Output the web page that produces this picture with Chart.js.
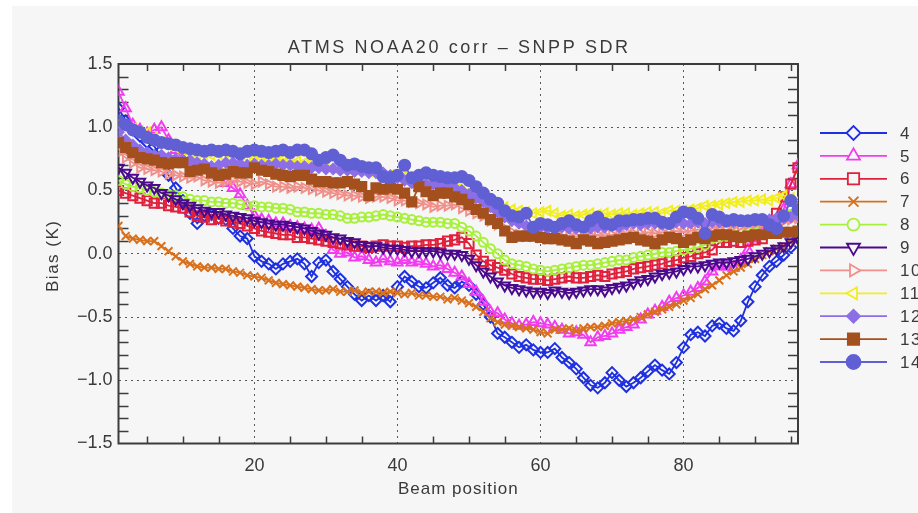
<!DOCTYPE html>
<html>
<head>
<meta charset="utf-8">
<script src="https://cdn.jsdelivr.net/npm/chart.js@4.4.1/dist/chart.umd.min.js"></script>
<style>
  html, body { margin: 0; padding: 0; background: #ffffff; }
  #wrap { width: 918px; height: 513px; }
</style>
</head>
<body>
<div id="wrap"><canvas id="biasChart" width="918" height="513"></canvas></div>
<script>
// ATMS NOAA20 corr - SNPP SDR bias by beam position, channels 4-14
const chartTitle = "ATMS NOAA20 corr \u2013 SNPP SDR";
const xTitle = "Beam position";
const yTitle = "Bias (K)";

const beams = Array.from({ length: 96 }, (_, i) => i + 1);
const xTickLabels = [20, 40, 60, 80];
const yTickLabels = [-1.5, -1.0, -0.5, 0.0, 0.5, 1.0, 1.5];
const channels = ["4", "5", "6", "7", "8", "9", "10", "11", "12", "13", "14"];

const ch4 = [
  1.15, 1.05, 0.98, 0.93, 0.88, 0.85, 0.76, 0.62, 0.52, 0.42, 0.32, 0.24,
  0.30, 0.31, 0.28, 0.27, 0.20, 0.14, 0.12, -0.02, -0.06, -0.08, -0.12, -0.08,
  -0.06, -0.04, -0.08, -0.18, -0.07, -0.05, -0.14, -0.20, -0.26, -0.32, -0.37, -0.33,
  -0.37, -0.33, -0.38, -0.26, -0.18, -0.22, -0.26, -0.27, -0.23, -0.19, -0.25, -0.27,
  -0.22, -0.25, -0.32, -0.40, -0.50, -0.63, -0.66, -0.70, -0.74, -0.72, -0.76, -0.78,
  -0.78, -0.75, -0.82, -0.86, -0.91, -0.98, -1.04, -1.06, -1.02, -0.94, -1.00, -1.05,
  -1.02, -0.98, -0.93, -0.88, -0.92, -0.95, -0.86, -0.74, -0.64, -0.62, -0.65, -0.57,
  -0.55, -0.59, -0.61, -0.53, -0.38, -0.26, -0.17, -0.10, -0.06, -0.01, 0.05, 0.12
];
const ch5 = [
  1.28, 1.15, 1.02, 0.98, 0.95, 0.98, 1.00, 0.90, 0.82, 0.75, 0.72, 0.70,
  0.68, 0.66, 0.62, 0.56, 0.52, 0.47, 0.38, 0.30, 0.27, 0.26, 0.24, 0.24,
  0.22, 0.21, 0.20, 0.19, 0.20, 0.14, 0.03, 0.00, 0.01, -0.03, -0.02, -0.05,
  -0.07, -0.04, -0.06, -0.07, -0.05, -0.07, -0.06, -0.08, -0.10, -0.09, -0.12, -0.15,
  -0.18, -0.24, -0.30, -0.38, -0.46, -0.47, -0.52, -0.55, -0.57, -0.56, -0.54, -0.55,
  -0.56, -0.58, -0.60, -0.63, -0.62, -0.64, -0.70, -0.66, -0.65, -0.63, -0.60, -0.58,
  -0.56, -0.52, -0.48, -0.45, -0.42, -0.38, -0.35, -0.33, -0.30, -0.27, -0.22, -0.14,
  -0.10, -0.10, -0.11, -0.05, 0.03, 0.12, 0.17, 0.18, 0.20, 0.35, 0.55, 0.70
];
const ch6 = [
  0.50, 0.48, 0.46, 0.44, 0.42, 0.40, 0.40, 0.38, 0.37, 0.36, 0.33, 0.30,
  0.29, 0.27, 0.28, 0.26, 0.25, 0.24, 0.22, 0.20, 0.18, 0.17, 0.16, 0.15,
  0.15, 0.13, 0.13, 0.12, 0.11, 0.10, 0.09, 0.08, 0.07, 0.06, 0.06, 0.05,
  0.06, 0.07, 0.06, 0.06, 0.05, 0.06, 0.06, 0.07, 0.07, 0.08, 0.10, 0.11,
  0.13, 0.08, -0.01, -0.06, -0.09, -0.11, -0.13, -0.16, -0.18, -0.19, -0.20, -0.20,
  -0.21, -0.20, -0.19, -0.18, -0.19, -0.19, -0.18, -0.17, -0.18, -0.16, -0.15, -0.14,
  -0.12, -0.11, -0.10, -0.09, -0.08, -0.06, -0.05, -0.03, -0.02, 0.00, 0.01, 0.03,
  0.09, 0.09, 0.10, 0.09, 0.10, 0.11, 0.12, 0.16, 0.32, 0.45, 0.55, 0.68
];
const ch7 = [
  0.22, 0.14, 0.12, 0.11, 0.10, 0.10, 0.06, 0.02, -0.02, -0.06, -0.08, -0.10,
  -0.11, -0.11, -0.12, -0.12, -0.14, -0.15, -0.17, -0.18, -0.19, -0.21, -0.23, -0.24,
  -0.25, -0.26, -0.27, -0.28, -0.29, -0.29, -0.28, -0.30, -0.30, -0.29, -0.31, -0.30,
  -0.30, -0.31, -0.30, -0.31, -0.32, -0.31, -0.33, -0.33, -0.34, -0.34, -0.36, -0.35,
  -0.37, -0.39, -0.42, -0.46, -0.51, -0.54, -0.56, -0.57, -0.58, -0.59, -0.60, -0.62,
  -0.63, -0.60, -0.60, -0.59, -0.61, -0.59, -0.58, -0.58, -0.57, -0.55, -0.54, -0.53,
  -0.52, -0.50, -0.48, -0.46, -0.44, -0.42, -0.40, -0.37, -0.35, -0.32, -0.28, -0.25,
  -0.21, -0.17, -0.14, -0.11, -0.08, -0.04, -0.01, 0.02, 0.04, 0.06, 0.09, 0.12
];
const ch8 = [
  0.58, 0.55, 0.53, 0.52, 0.50, 0.49, 0.48, 0.47, 0.46, 0.45, 0.43, 0.42,
  0.42, 0.41, 0.41, 0.40, 0.40, 0.39, 0.38, 0.38, 0.37, 0.37, 0.36, 0.36,
  0.35, 0.33, 0.33, 0.32, 0.32, 0.31, 0.31, 0.30, 0.28, 0.28, 0.29, 0.29,
  0.30, 0.31, 0.30, 0.29, 0.28, 0.27, 0.26, 0.25, 0.25, 0.25, 0.24, 0.24,
  0.21, 0.18, 0.14, 0.09, 0.04, 0.00, -0.05, -0.08, -0.09, -0.10, -0.12, -0.13,
  -0.14, -0.13, -0.12, -0.11, -0.10, -0.09, -0.09, -0.08, -0.07, -0.06, -0.05, -0.05,
  -0.03, -0.02, -0.01, 0.00, 0.01, 0.01, 0.02, 0.03, 0.04, 0.05, 0.07, 0.12,
  0.13, 0.14, 0.15, 0.16, 0.18, 0.20, 0.22, 0.24, 0.27, 0.29, 0.31, 0.34
];
const ch9 = [
  0.68, 0.64, 0.60, 0.57, 0.54, 0.52, 0.48, 0.46, 0.43, 0.40, 0.38, 0.36,
  0.34, 0.33, 0.33, 0.31, 0.30, 0.29, 0.28, 0.26, 0.25, 0.24, 0.23, 0.23,
  0.22, 0.21, 0.20, 0.18, 0.16, 0.15, 0.13, 0.12, 0.10, 0.09, 0.07, 0.06,
  0.06, 0.05, 0.04, 0.04, 0.03, 0.02, 0.02, 0.02, 0.02, 0.01, 0.00, 0.00,
  -0.01, -0.04, -0.09, -0.14, -0.18, -0.22, -0.25, -0.27, -0.28, -0.29, -0.30, -0.30,
  -0.31, -0.29, -0.30, -0.31, -0.30, -0.29, -0.28, -0.28, -0.29, -0.27, -0.26, -0.25,
  -0.23, -0.21, -0.20, -0.18, -0.16, -0.15, -0.14, -0.12, -0.10, -0.10, -0.09, -0.08,
  -0.07, -0.07, -0.06, -0.05, -0.04, -0.02, 0.00, 0.02, 0.04, 0.06, 0.09, 0.13
];
const ch10 = [
  0.80, 0.76, 0.72, 0.68, 0.67, 0.66, 0.65, 0.63, 0.62, 0.61, 0.60, 0.61,
  0.58, 0.57, 0.56, 0.57, 0.58, 0.57, 0.56, 0.55, 0.57, 0.55, 0.53, 0.53,
  0.52, 0.53, 0.52, 0.51, 0.50, 0.49, 0.48, 0.47, 0.46, 0.46, 0.45, 0.44,
  0.45, 0.45, 0.44, 0.42, 0.42, 0.41, 0.40, 0.39, 0.37, 0.38, 0.38, 0.39,
  0.36, 0.34, 0.32, 0.30, 0.26, 0.23, 0.20, 0.17, 0.15, 0.14, 0.14, 0.13,
  0.12, 0.14, 0.13, 0.14, 0.13, 0.15, 0.14, 0.15, 0.14, 0.15, 0.16, 0.17,
  0.16, 0.16, 0.17, 0.16, 0.17, 0.17, 0.18, 0.17, 0.18, 0.19, 0.19, 0.20,
  0.21, 0.21, 0.22, 0.22, 0.23, 0.24, 0.24, 0.25, 0.26, 0.26, 0.27, 0.28
];
const ch11 = [
  1.03, 1.00, 0.99, 0.97, 0.96, 0.92, 0.88, 0.86, 0.84, 0.82, 0.80, 0.78,
  0.79, 0.78, 0.79, 0.80, 0.80, 0.78, 0.76, 0.77, 0.76, 0.75, 0.74, 0.75,
  0.74, 0.73, 0.72, 0.72, 0.71, 0.70, 0.68, 0.68, 0.68, 0.67, 0.66, 0.65,
  0.63, 0.61, 0.62, 0.62, 0.61, 0.60, 0.60, 0.59, 0.58, 0.58, 0.57, 0.57,
  0.53, 0.49, 0.45, 0.42, 0.41, 0.39, 0.37, 0.35, 0.34, 0.33, 0.32, 0.33,
  0.34, 0.32, 0.30, 0.31, 0.30, 0.31, 0.32, 0.31, 0.32, 0.31, 0.32, 0.32,
  0.31, 0.32, 0.33, 0.33, 0.32, 0.34, 0.34, 0.34, 0.35, 0.36, 0.38, 0.38,
  0.39, 0.40, 0.41, 0.41, 0.42, 0.42, 0.43, 0.42, 0.44, 0.46, 0.44, 0.42
];
const ch12 = [
  0.96, 0.90, 0.86, 0.82, 0.80, 0.78, 0.78, 0.76, 0.75, 0.74, 0.74, 0.72,
  0.71, 0.69, 0.70, 0.72, 0.72, 0.71, 0.70, 0.71, 0.70, 0.70, 0.71, 0.70,
  0.70, 0.69, 0.69, 0.68, 0.68, 0.67, 0.67, 0.66, 0.66, 0.65, 0.65, 0.64,
  0.64, 0.64, 0.62, 0.60, 0.58, 0.56, 0.56, 0.55, 0.55, 0.54, 0.54, 0.52,
  0.50, 0.47, 0.44, 0.41, 0.37, 0.33, 0.29, 0.26, 0.24, 0.22, 0.21, 0.21,
  0.20, 0.20, 0.21, 0.20, 0.20, 0.21, 0.20, 0.21, 0.21, 0.22, 0.21, 0.23,
  0.24, 0.23, 0.24, 0.24, 0.23, 0.24, 0.25, 0.24, 0.24, 0.25, 0.24, 0.25,
  0.25, 0.26, 0.25, 0.26, 0.26, 0.26, 0.27, 0.27, 0.28, 0.28, 0.29, 0.30
];
const ch13 = [
  0.88, 0.84, 0.80, 0.76, 0.75, 0.74, 0.72, 0.71, 0.72, 0.72, 0.65, 0.66,
  0.67, 0.64, 0.62, 0.63, 0.65, 0.64, 0.64, 0.68, 0.66, 0.65, 0.63, 0.62,
  0.61, 0.62, 0.62, 0.59, 0.57, 0.57, 0.56, 0.56, 0.57, 0.55, 0.53, 0.46,
  0.52, 0.51, 0.52, 0.51, 0.48, 0.41, 0.53, 0.49, 0.46, 0.48, 0.48, 0.45,
  0.43, 0.39, 0.35, 0.32, 0.27, 0.24, 0.18, 0.13, 0.14, 0.14, 0.14, 0.13,
  0.12, 0.12, 0.11, 0.10, 0.08, 0.11, 0.10, 0.08, 0.09, 0.10, 0.11, 0.12,
  0.13, 0.11, 0.10, 0.08, 0.11, 0.13, 0.12, 0.09, 0.11, 0.13, 0.12, 0.14,
  0.15, 0.15, 0.14, 0.13, 0.14, 0.15, 0.15, 0.16, 0.16, 0.17, 0.17, 0.18
];
const ch14 = [
  1.05, 1.02, 0.98, 0.96, 0.92, 0.90, 0.88, 0.87, 0.86, 0.84, 0.83, 0.82,
  0.81, 0.82, 0.81, 0.82, 0.81, 0.79, 0.81, 0.82, 0.81, 0.80, 0.81, 0.82,
  0.80, 0.82, 0.82, 0.79, 0.74, 0.76, 0.78, 0.74, 0.70, 0.71, 0.69, 0.68,
  0.68, 0.61, 0.60, 0.62, 0.70, 0.60, 0.62, 0.64, 0.62, 0.61, 0.60, 0.60,
  0.61, 0.58, 0.53, 0.48, 0.43, 0.40, 0.34, 0.30, 0.29, 0.32, 0.21, 0.24,
  0.23, 0.21, 0.24, 0.26, 0.23, 0.21, 0.26, 0.29, 0.24, 0.23, 0.26, 0.26,
  0.27, 0.27, 0.28, 0.28, 0.25, 0.24, 0.29, 0.33, 0.32, 0.28, 0.16, 0.31,
  0.29, 0.26, 0.27, 0.26, 0.26, 0.27, 0.27, 0.23, 0.20, 0.30, 0.42, 0.35
];

const seriesValues = [ch4, ch5, ch6, ch7, ch8, ch9, ch10, ch11, ch12, ch13, ch14];
const seriesColors = [
  "#1f30e0", "#f23cf0", "#e0203c", "#d8701c", "#a8f03c", "#4a0a8c",
  "#f0908a", "#f2ee1e", "#8c6ee6", "#a4501e", "#6060d4"
];
// marker per channel: [pointStyle, rotation, filled, radius]
const seriesMarkers = [
  ["rectRot", 0, false, 5.5],
  ["triangle", 0, false, 6],
  ["rect", 0, false, 6.5],
  ["crossRot", 0, false, 5.5],
  ["circle", 0, false, 4.5],
  ["triangle", 180, false, 6],
  ["triangle", 90, false, 5.5],
  ["triangle", -90, false, 5.5],
  ["rectRot", 0, true, 5],
  ["rect", 0, true, 6.5],
  ["circle", 0, true, 5.5]
];

const fontFamily = "'Liberation Sans', Arial, sans-serif";
const textColor = "#3a3a3a";
const plotBg = "#f6f6f6";

const datasets = seriesValues.map((vals, i) => {
  const m = seriesMarkers[i];
  return {
    label: channels[i],
    data: vals.map((v, k) => ({ x: beams[k], y: v })),
    borderColor: seriesColors[i],
    backgroundColor: seriesColors[i],
    borderWidth: 1.8,
    pointStyle: m[0],
    pointRotation: m[1],
    pointRadius: m[3],
    pointBorderWidth: 2,
    pointBorderColor: seriesColors[i],
    pointBackgroundColor: m[2] ? seriesColors[i] : "rgba(0,0,0,0)",
    tension: 0,
    // later channels are drawn on top
    order: seriesValues.length - i,
  };
});

const backgroundPlugin = {
  id: "background",
  beforeDraw(chart) {
    const ctx = chart.ctx;
    ctx.save();
    ctx.fillStyle = "#ffffff";
    ctx.fillRect(0, 0, chart.width, chart.height);
    ctx.fillStyle = plotBg;
    ctx.fillRect(12, 6, chart.width - 12, chart.height - 6);
    ctx.restore();
  },
};

const framePlugin = {
  id: "frame",
  beforeDatasetsDraw(chart) {
    const ctx = chart.ctx;
    const a = chart.chartArea;
    const xs = chart.scales.x;
    const ys = chart.scales.y;
    ctx.save();
    ctx.strokeStyle = "#3c3c3c";
    ctx.lineWidth = 1.5;
    // minor ticks on x every 5
    for (let v = 5; v < 96; v += 5) {
      if (v % 20 === 0) continue;
      const px = Math.round(xs.getPixelForValue(v)) + 0.5;
      ctx.beginPath();
      ctx.moveTo(px, a.bottom);
      ctx.lineTo(px, a.bottom - 7);
      ctx.moveTo(px, a.top);
      ctx.lineTo(px, a.top + 7);
      ctx.stroke();
    }
    // minor ticks on y every 0.1
    for (let k = -14; k <= 14; k++) {
      if (k % 5 === 0) continue;
      const py = Math.round(ys.getPixelForValue(k / 10)) + 0.5;
      ctx.beginPath();
      ctx.moveTo(a.left, py);
      ctx.lineTo(a.left + 10, py);
      ctx.moveTo(a.right, py);
      ctx.lineTo(a.right - 10, py);
      ctx.stroke();
    }
    ctx.lineWidth = 2;
    ctx.strokeRect(a.left, a.top, a.right - a.left, a.bottom - a.top);
    ctx.restore();
  },
  afterDraw(chart) {
    const ctx = chart.ctx;
    const a = chart.chartArea;
    ctx.save();
    ctx.fillStyle = textColor;
    ctx.textAlign = "center";
    ctx.textBaseline = "middle";
    ctx.font = "18px " + fontFamily;
    ctx.letterSpacing = "2.6px";
    ctx.fillText(chartTitle, (a.left + a.right) / 2 + 1, 48);
    ctx.font = "17px " + fontFamily;
    ctx.letterSpacing = "1px";
    ctx.fillText(xTitle, (a.left + a.right) / 2, 489);
    ctx.translate(53, (a.top + a.bottom) / 2 + 2);
    ctx.rotate(-Math.PI / 2);
    ctx.letterSpacing = "1.5px";
    ctx.fillText(yTitle, 0, 0);
    ctx.restore();
  },
};

const legendPlugin = {
  id: "sideLegend",
  afterDraw(chart) {
    const ctx = chart.ctx;
    channels.forEach((name, i) => {
      const y = 133 + i * 22.9;
      const m = seriesMarkers[i];
      ctx.save();
      ctx.strokeStyle = seriesColors[i];
      ctx.lineWidth = 1.8;
      ctx.beginPath();
      ctx.moveTo(820, y);
      ctx.lineTo(887, y);
      ctx.stroke();
      ctx.fillStyle = m[2] ? seriesColors[i] : plotBg;
      ctx.lineWidth = 1.8;
      Chart.helpers.drawPoint(ctx, {
        pointStyle: m[0],
        rotation: m[1],
        radius: m[3] + 1.5,
        borderWidth: 1.8,
      }, 853.5, y);
      ctx.restore();
      ctx.save();
      ctx.font = "17px " + fontFamily;
      ctx.letterSpacing = "1.5px";
      ctx.textBaseline = "middle";
      ctx.textAlign = "left";
      ctx.fillStyle = textColor;
      ctx.fillText(name, 900, y + 1);
      ctx.restore();
    });
  },
};

const ctx = document.getElementById("biasChart").getContext("2d");
const biasChart = new Chart(ctx, {
  type: "line",
  data: { datasets: datasets },
  options: {
    responsive: false,
    animation: false,
    devicePixelRatio: 1,
    layout: { padding: { top: 64, right: 120, bottom: 0, left: 0 } },
    plugins: {
      legend: { display: false },
      tooltip: { enabled: false },
      title: { display: false },
    },
    scales: {
      x: {
        type: "linear",
        min: 1,
        max: 96,
        afterBuildTicks: (scale) => {
          scale.ticks = xTickLabels.map((v) => ({ value: v }));
        },
        afterFit: (scale) => {
          scale.height = 69.5;
        },
        ticks: {
          font: { family: fontFamily, size: 18 },
          color: textColor,
          padding: 12,
          maxRotation: 0,
        },
        grid: { color: "#5a5a5a", lineWidth: 1, drawTicks: false },
        border: { display: false, dash: [2, 4] },
      },
      y: {
        type: "linear",
        min: -1.5,
        max: 1.5,
        afterBuildTicks: (scale) => {
          scale.ticks = yTickLabels.map((v) => ({ value: v }));
        },
        afterFit: (scale) => {
          scale.width = 118.5;
        },
        ticks: {
          font: { family: fontFamily, size: 18 },
          color: textColor,
          padding: 6,
          callback: (v) => (v < 0 ? "\u2212" + Math.abs(v).toFixed(1) : v.toFixed(1)),
        },
        grid: { color: "#5a5a5a", lineWidth: 1, drawTicks: false },
        border: { display: false, dash: [2, 4] },
      },
    },
  },
  plugins: [backgroundPlugin, framePlugin, legendPlugin],
});
</script>
</body>
</html>
